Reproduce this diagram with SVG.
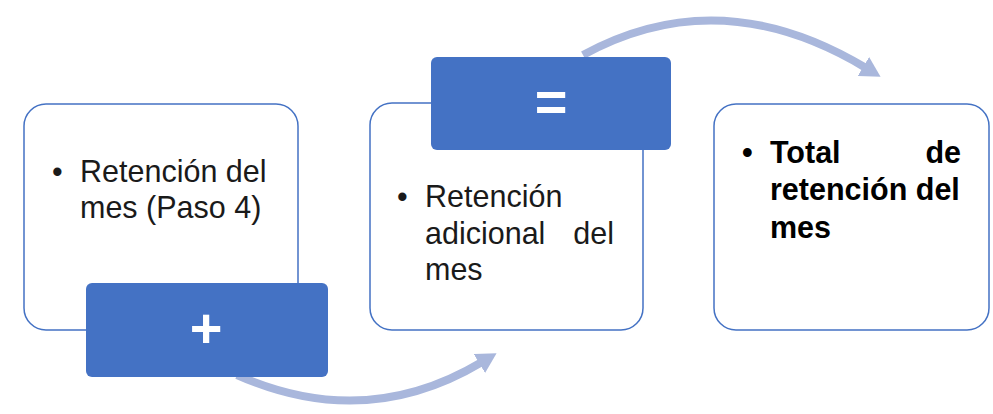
<svg xmlns="http://www.w3.org/2000/svg" width="993" height="414" viewBox="0 0 993 414">
<style>
.box{fill:#ffffff;stroke:#4472C4;stroke-width:1.5}
.op{fill:#4472C4;stroke:none}
.t{font-family:"Liberation Sans",Arial,sans-serif;font-size:30.5px;fill:#1a1a1a}
.b{font-weight:bold;fill:#000000}
.sym{font-family:"Liberation Sans",Arial,sans-serif;font-size:56px;font-weight:bold;fill:#ffffff;text-anchor:middle}
.arc{fill:none;stroke:#A9B7DC;stroke-width:8}
</style>
<defs>
<marker id="ah" markerUnits="userSpaceOnUse" viewBox="0 0 20 22" markerWidth="20" markerHeight="22" refX="3" refY="11" orient="auto">
<path d="M0,0 L20,11 L0,22 z" fill="#A9B7DC"/>
</marker>
</defs>
<g id="connectors">
<path class="arc" d="M237 375 Q365 432 482 362" marker-end="url(#ah)"/>
<path class="arc" d="M583 55 Q720 -20 866 68" marker-end="url(#ah)"/>
</g>
<g id="node1">
<rect class="box" x="24" y="104" width="274" height="226" rx="22"/>
<text class="t" x="52" y="182">•</text>
<text class="t" x="80" y="182">Retención del</text>
<text class="t" x="80" y="218">mes (Paso 4)</text>
</g>
<g id="plus">
<rect class="op" x="86" y="283" width="242" height="94" rx="6"/>
<text class="sym" x="206" y="347">+</text>
</g>
<g id="node2">
<rect class="box" x="370" y="103" width="273" height="227" rx="22"/>
<text class="t" x="397" y="207">•</text>
<text class="t" x="425" y="207">Retención</text>
<text class="t" x="425" y="244">adicional</text>
<text class="t" x="614" y="244" text-anchor="end">del</text>
<text class="t" x="425" y="280">mes</text>
</g>
<g id="equals">
<rect class="op" x="431" y="57" width="240" height="93" rx="6"/>
<text class="sym" x="551" y="121">=</text>
</g>
<g id="node3">
<rect class="box" x="714" y="104" width="275" height="226" rx="22"/>
<text class="t b" x="742" y="163">•</text>
<text class="t b" x="770" y="163">Total</text>
<text class="t b" x="961" y="163" text-anchor="end">de</text>
<text class="t b" x="770" y="200">retención del</text>
<text class="t b" x="770" y="238">mes</text>
</g>
</svg>
